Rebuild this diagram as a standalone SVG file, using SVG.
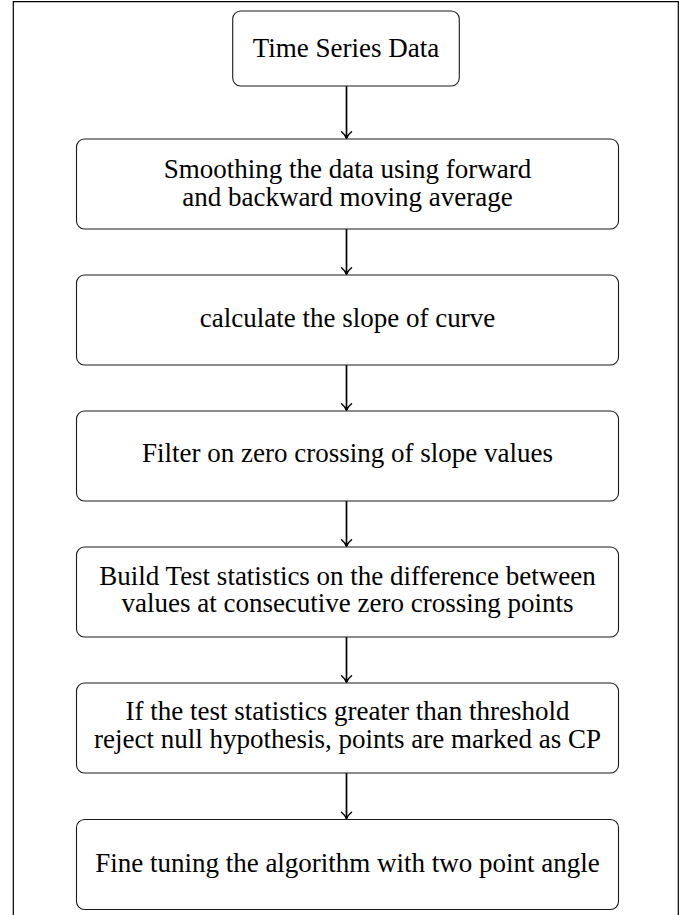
<svg xmlns="http://www.w3.org/2000/svg" width="694" height="915" viewBox="0 0 694 915">
  <style>
    .box { fill: #ffffff; stroke: #1a1a1a; stroke-width: 1.1; }
    .lbl { font-family: "Liberation Serif", "Times New Roman", serif; font-size: 27px; fill: #000000; text-anchor: middle; }
    .arrow { stroke: #000000; stroke-width: 1.7; fill: none; marker-end: url(#tip); }
    .frame { stroke: #000000; stroke-width: 1.2; fill: none; }
  </style>
  <defs>
    <marker id="tip" markerUnits="userSpaceOnUse" markerWidth="14" markerHeight="14" refX="0" refY="0" viewBox="-8 -7 9 14" orient="auto" overflow="visible">
      <path d="M-6.5,-5 C-3.8,-1.8 -1.4,-0.5 0,0 C-1.4,0.5 -3.8,1.8 -6.5,5" fill="none" stroke="#000000" stroke-width="1.5" stroke-linecap="round"/>
    </marker>
  </defs>
  <rect width="694" height="915" fill="#ffffff"/>
  <path class="frame" d="M13.3,915 V1.6 H678.3 V915"/>

  <g id="connectors">
    <line class="arrow" x1="346.5" y1="86" x2="346.5" y2="138.3"/>
    <line class="arrow" x1="346.5" y1="229" x2="346.5" y2="274.3"/>
    <line class="arrow" x1="346.5" y1="365" x2="346.5" y2="410.3"/>
    <line class="arrow" x1="346.5" y1="501" x2="346.5" y2="546.3"/>
    <line class="arrow" x1="346.5" y1="637" x2="346.5" y2="682.3"/>
    <line class="arrow" x1="346.5" y1="773" x2="346.5" y2="818.8"/>
  </g>

  <g id="node-time-series">
    <rect class="box" x="232.7" y="11" width="226.6" height="75" rx="8" ry="8"/>
    <text class="lbl" x="346" y="56.7">Time Series Data</text>
  </g>

  <g id="node-smoothing">
    <rect class="box" x="76.5" y="139" width="542" height="90" rx="8" ry="8"/>
    <text class="lbl" x="347.5" y="177.5">Smoothing the data using forward</text>
    <text class="lbl" x="347.5" y="205.5">and backward moving average</text>
  </g>

  <g id="node-slope">
    <rect class="box" x="76.5" y="275" width="542" height="90" rx="8" ry="8"/>
    <text class="lbl" x="347.5" y="327">calculate the slope of curve</text>
  </g>

  <g id="node-filter">
    <rect class="box" x="76.5" y="411" width="542" height="90" rx="8" ry="8"/>
    <text class="lbl" x="347.5" y="462">Filter on zero crossing of slope values</text>
  </g>

  <g id="node-test-stats">
    <rect class="box" x="76.5" y="547" width="542" height="90" rx="8" ry="8"/>
    <text class="lbl" x="347.5" y="584.5">Build Test statistics on the difference between</text>
    <text class="lbl" x="347.5" y="611.5">values at consecutive zero crossing points</text>
  </g>

  <g id="node-threshold">
    <rect class="box" x="76.5" y="683" width="542" height="90" rx="8" ry="8"/>
    <text class="lbl" x="347.5" y="720">If the test statistics greater than threshold</text>
    <text class="lbl" x="347.5" y="748">reject null hypothesis, points are marked as CP</text>
  </g>

  <g id="node-fine-tuning">
    <rect class="box" x="76.5" y="819.5" width="542" height="90" rx="8" ry="8"/>
    <text class="lbl" x="347.5" y="872">Fine tuning the algorithm with two point angle</text>
  </g>
</svg>
